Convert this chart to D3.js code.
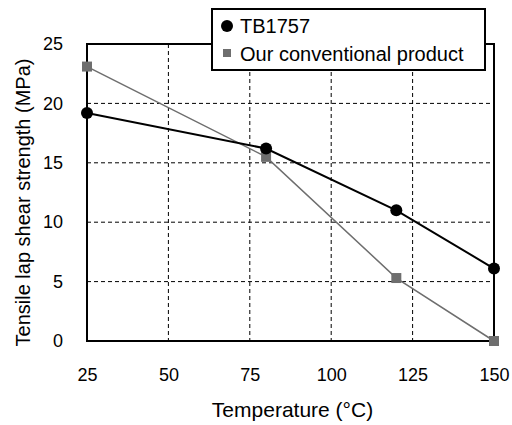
<!DOCTYPE html>
<html>
<head>
<meta charset="utf-8">
<script src="https://cdn.jsdelivr.net/npm/d3@7"></script>
<style>
  body { margin: 0; background: #fff; }
  text { font-family: "Liberation Sans", Arial, sans-serif; }
</style>
</head>
<body>
<svg id="chart" width="512" height="425"></svg>
<script>
// data
const temps = [25, 80, 120, 150];
const tb1757 = [19.2, 16.2, 11.0, 6.1];
const conventional = [23.1, 15.5, 5.3, 0];
const xTicks = [25, 50, 75, 100, 125, 150];
const yTicks = [0, 5, 10, 15, 20, 25];
const seriesNames = ["TB1757", "Our conventional product"];

const margin = { top: 44, right: 18, bottom: 84, left: 87 },
  width = 512 - margin.left - margin.right,
  height = 425 - margin.top - margin.bottom;

const svg = d3.select("#chart");
const g = svg.append("g").attr("transform", `translate(${margin.left},${margin.top})`);

const x = d3.scaleLinear().domain([25, 150]).range([0, width]);
const y = d3.scaleLinear().domain([0, 25]).range([height, 0]);

// grid
g.selectAll(".vgrid").data(xTicks.slice(1, -1)).join("line")
  .attr("x1", d => x(d)).attr("x2", d => x(d))
  .attr("y1", 0).attr("y2", height)
  .attr("stroke", "#000").attr("stroke-width", 1).attr("stroke-dasharray", "4,3");
g.selectAll(".hgrid").data(yTicks.slice(1, -1)).join("line")
  .attr("x1", 0).attr("x2", width)
  .attr("y1", d => y(d)).attr("y2", d => y(d))
  .attr("stroke", "#000").attr("stroke-width", 1).attr("stroke-dasharray", "4,3");

// frame
g.append("rect").attr("width", width).attr("height", height)
  .attr("fill", "none").attr("stroke", "#000").attr("stroke-width", 2);

// axes (labels only)
const xAxis = g.append("g").attr("transform", `translate(0,${height})`)
  .call(d3.axisBottom(x).tickValues(xTicks).tickSize(0).tickPadding(27));
const yAxis = g.append("g")
  .call(d3.axisLeft(y).tickValues(yTicks).tickSize(0).tickPadding(24));
[xAxis, yAxis].forEach(a => {
  a.select(".domain").remove();
  a.selectAll("text").attr("font-size", 18).attr("fill", "#000")
    .style("font-family", "'Liberation Sans', Arial, sans-serif");
});

// lines
const line = d3.line().x(d => x(d[0])).y(d => y(d[1]));
const convPts = temps.map((t, i) => [t, conventional[i]]);
const tbPts = temps.map((t, i) => [t, tb1757[i]]);

g.append("path").datum(convPts).attr("d", line)
  .attr("fill", "none").attr("stroke", "#6e6e6e").attr("stroke-width", 1.5);
g.append("path").datum(tbPts).attr("d", line)
  .attr("fill", "none").attr("stroke", "#000").attr("stroke-width", 2);

g.selectAll(".conv").data(convPts).join("rect")
  .attr("x", d => x(d[0]) - 5).attr("y", d => y(d[1]) - 5)
  .attr("width", 10).attr("height", 10).attr("fill", "#6e6e6e");
g.selectAll(".tb").data(tbPts).join("circle")
  .attr("cx", d => x(d[0])).attr("cy", d => y(d[1])).attr("r", 6).attr("fill", "#000");

// axis titles
svg.append("text").attr("x", margin.left + width / 2 + 2).attr("y", 417)
  .attr("text-anchor", "middle").attr("font-size", 21).text("Temperature (°C)");
svg.append("text")
  .attr("transform", `translate(30,${margin.top + height / 2 + 10}) rotate(-90)`)
  .attr("text-anchor", "middle").attr("font-size", 20).text("Tensile lap shear strength (MPa)");

// legend
const legend = svg.append("g").attr("transform", "translate(212,9)");
legend.append("rect").attr("width", 273).attr("height", 61)
  .attr("fill", "#fff").attr("stroke", "#000").attr("stroke-width", 2);
legend.append("circle").attr("cx", 15).attr("cy", 17).attr("r", 6).attr("fill", "#000");
legend.append("rect").attr("x", 11).attr("y", 40).attr("width", 8).attr("height", 8).attr("fill", "#6e6e6e");
legend.selectAll(".lt").data(seriesNames).join("text")
  .attr("x", 28).attr("y", (d, i) => 24 + i * 28)
  .attr("font-size", 20).text(d => d);
</script>
</body>
</html>
